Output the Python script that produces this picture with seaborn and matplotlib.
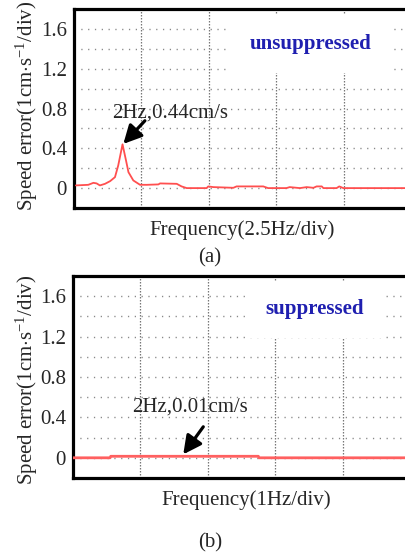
import numpy as np
import pandas as pd
import matplotlib
matplotlib.use("Agg")
import matplotlib.pyplot as plt
import seaborn as sns

# ---- data ----
freq_a = [0.07, 0.53, 0.72, 0.84, 0.96, 1.15, 1.34, 1.52, 1.64, 1.80, 1.93, 2.02, 2.20, 2.45,
          2.70, 3.13, 3.19, 3.81, 3.99, 4.18, 4.92, 4.98, 5.17, 5.91, 6.03, 7.02, 7.20, 7.88,
          8.00, 8.38, 8.63, 8.88, 9.00, 9.19, 9.25, 9.74, 9.84, 9.99, 12.5]
err_a = [0.027, 0.033, 0.053, 0.047, 0.027, 0.043, 0.07, 0.11, 0.227, 0.44, 0.277, 0.16, 0.077, 0.033,
         0.033, 0.037, 0.047, 0.043, 0.017, 0.0, 0.0, 0.017, 0.01, 0.003, 0.017, 0.017, 0.0, 0.0,
         0.01, 0.0, 0.01, 0.003, 0.017, 0.017, 0.0, 0.0, 0.017, 0.0, 0.0]

freq_b = [0.0, 0.55, 0.56, 2.75, 2.76, 5.0]
err_b = [0.0, 0.0, 0.015, 0.015, 0.0, 0.0]

y_ticks = [0, 0.4, 0.8, 1.2, 1.6]
y_tick_labels = ["0", "0.4", "0.8", "1.2", "1.6"]
y_grid = [0, 0.2, 0.4, 0.6, 0.8, 1.0, 1.2, 1.4, 1.6]
div_a = 2.5   # Hz per division
div_b = 1.0

df_a = pd.DataFrame({"f": freq_a, "e": err_a})
df_b = pd.DataFrame({"f": freq_b, "e": err_b})

sns.set_style("white")
plt.rcParams["font.family"] = ["Liberation Serif", "DejaVu Serif"]
plt.rcParams["mathtext.fontset"] = "custom"
plt.rcParams["mathtext.rm"] = "Liberation Serif"
plt.rcParams["mathtext.it"] = "Liberation Serif:italic"

W, H = 406, 557
fig = plt.figure(figsize=(W / 100, H / 100), dpi=100)
fig.patch.set_facecolor("white")

ARROW = dict(arrowstyle="-|>,head_length=0.55,head_width=0.28", color="black",
             lw=2.3, mutation_scale=20, shrinkA=0, shrinkB=0)


def px(x, y):
    return x / W, 1 - y / H


def make_axes(left, top, bottom, div):
    ax = fig.add_axes([left / W, 1 - bottom / H, (W - left) / W, (bottom - top) / H])
    xmax = (W - left) / 67.4 * div
    ax.set_xlim(0, xmax)
    ax.set_ylim(-0.2, 1.8)
    for x in np.arange(div, xmax, div):
        ax.axvline(x, color="#777777", lw=0.9, ls=(0, (1.2, 1.2)), zorder=1)
    for y in y_grid:
        ax.axhline(y, color="#888888", lw=1.0, ls=(0, (0.9, 4.0)), zorder=1)
    ax.set_yticks(y_ticks)
    ax.set_yticklabels(y_tick_labels)
    ax.set_xticks([])
    ax.tick_params(axis="y", length=0, pad=5, labelsize=15)
    for s in ["left", "top", "bottom"]:
        ax.spines[s].set_linewidth(2.3)
        ax.spines[s].set_color("black")
    ax.spines["right"].set_visible(False)
    return ax


# ---- panel (a) ----
ax1 = make_axes(74, 9, 208, div_a)
sns.lineplot(data=df_a, x="f", y="e", ax=ax1, color="#ff4f4f", lw=1.3, zorder=3)
ax1.set_xlabel("")
ax1.set_ylabel("")
ax1.text(8.79, 1.45, "unsuppressed", color="#1f1fb0", fontsize=15, fontweight="bold",
         ha="center", va="center", zorder=4,
         bbox=dict(boxstyle="square,pad=0.9", fc="white", ec="none"))
ax1.text(3.56, 0.75, "2Hz,0.44cm/s", fontsize=15, ha="center", va="center", zorder=5)
ax1.annotate("", xy=(1.83, 0.444), xytext=(2.63, 0.677), arrowprops=ARROW, zorder=5)

# ---- panel (b) ----
ax2 = make_axes(73, 276, 478, div_b)
sns.lineplot(data=df_b, x="f", y="e", ax=ax2, color="#ff6060", lw=2.0, zorder=3)
ax2.set_xlabel("")
ax2.set_ylabel("")
ax2.text(3.58, 1.47, "suppressed", color="#1f1fb0", fontsize=15, fontweight="bold",
         ha="center", va="center", zorder=4,
         bbox=dict(boxstyle="square,pad=0.9", fc="white", ec="none"))
ax2.text(1.736, 0.50, "2Hz,0.01cm/s", fontsize=15, ha="center", va="center", zorder=5)
ax2.annotate("", xy=(1.636, 0.034), xytext=(1.933, 0.307), arrowprops=ARROW, zorder=5)

# ---- labels ----
ylab = r"Speed error(1cm$\cdot$s$^{-1}$/div)"
fig.text(*px(27, 106), ylab, rotation=90, ha="center", va="center", fontsize=15)
fig.text(*px(27, 380), ylab, rotation=90, ha="center", va="center", fontsize=15)
fig.text(*px(242, 230), "Frequency(2.5Hz/div)", ha="center", va="center", fontsize=15)
fig.text(*px(246, 500), "Frequency(1Hz/div)", ha="center", va="center", fontsize=15)
fig.text(*px(210, 258), "(a)", ha="center", va="center", fontsize=15)
fig.text(*px(210, 543), "(b)", ha="center", va="center", fontsize=15)

fig.savefig("out.png", dpi=100)
